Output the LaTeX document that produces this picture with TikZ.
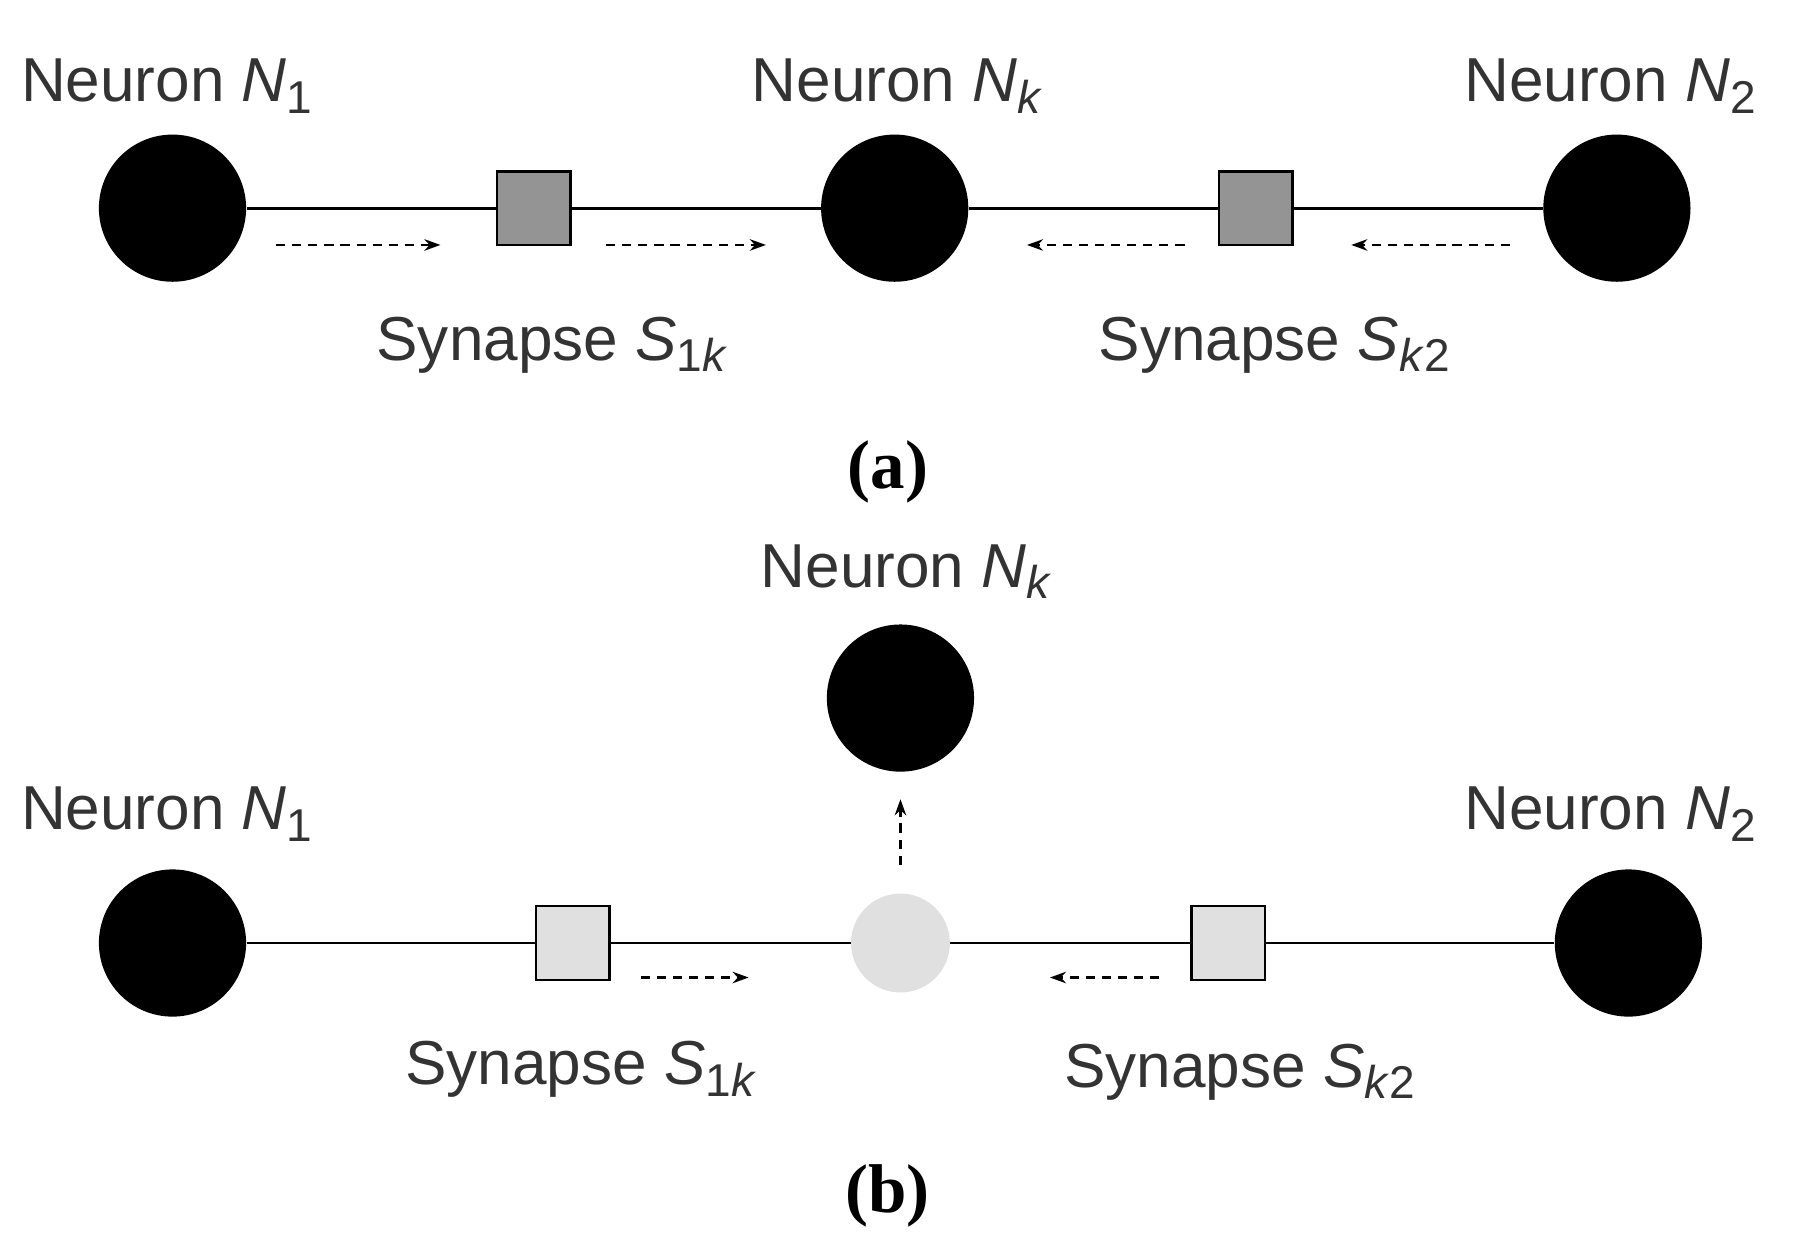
\documentclass[tikz,border=0pt]{standalone}
\usepackage{fontspec}
\setmainfont{Liberation Sans}
\newfontfamily\capfont{Liberation Serif}
\usetikzlibrary{arrows.meta}
\newcommand{\sbs}[1]{\raisebox{-0.35ex}{\fontsize{20}{22}\selectfont #1}}
\begin{document}
\begin{tikzpicture}[x=0.5pt,y=-0.5pt,
  neuron/.style={circle,fill=black,minimum size=64pt,inner sep=0},
  ghost/.style={circle,fill=black!12,minimum size=43pt,inner sep=0},
  syn/.style={draw,line width=1pt,minimum size=32pt,inner sep=0},
  dsyn/.style={syn,fill=black!42},
  lsyn/.style={syn,fill=black!12},
  lbl/.style={font=\fontsize{27}{30}\selectfont,text=black!80},
  figcap/.style={font=\capfont\bfseries\fontsize{30}{34}\selectfont},
  flow/.style={dash pattern=on 4pt off 3pt,line width=1pt,-{Stealth[length=7pt,width=5pt]}},
  wire/.style={line width=1.2pt}]
\useasboundingbox (0,0) rectangle (1560,1084);
% (a)
\node[neuron] (a1) at (150,181) {};
\node[neuron] (ak) at (778,181) {};
\node[neuron] (a2) at (1406,181) {};
\node[dsyn] (as1) at (464,181) {};
\node[dsyn] (as2) at (1092,181) {};
\draw[wire] (a1) -- (as1) -- (ak) -- (as2) -- (a2);
\coordinate (p1) at (240,213); \coordinate (p2) at (383,213);
\coordinate (p3) at (527,213); \coordinate (p4) at (666,213);
\coordinate (p5) at (1030,213); \coordinate (p6) at (893,213);
\coordinate (p7) at (1313,213); \coordinate (p8) at (1175,213);
\draw[flow] (p1) -- (p2); \draw[flow] (p3) -- (p4);
\draw[flow] (p5) -- (p6); \draw[flow] (p7) -- (p8);
\node[lbl] (la1) at (145,75) {Neuron \textit{N}\sbs{1}};
\node[lbl] (lak) at (780,75) {Neuron \textit{N}\sbs{\textit{k}}};
\node[lbl] (la2) at (1400,75) {Neuron \textit{N}\sbs{2}};
\node[lbl] (ls1) at (480,300) {Synapse \textit{S}\sbs{1\textit{k}}};
\node[lbl] (ls2) at (1108,300) {Synapse \textit{S}\sbs{\textit{k}2}};
\node[figcap] (ca) at (772,410) {(a)};
% (b)
\node[neuron] (bk) at (783,607) {};
\node[neuron] (b1) at (150,820) {};
\node[neuron] (b2) at (1416,820) {};
\node[ghost] (bg) at (783,820) {};
\node[lsyn] (bs1) at (498,820) {};
\node[lsyn] (bs2) at (1068,820) {};
\draw[wire] (b1) -- (bs1) -- (bg) -- (bs2) -- (b2);
\coordinate (q1) at (557,850); \coordinate (q2) at (651,850);
\coordinate (q3) at (1008,850); \coordinate (q4) at (913,850);
\coordinate (q5) at (783,752); \coordinate (q6) at (783,695);
\draw[flow] (q1) -- (q2); \draw[flow] (q3) -- (q4); \draw[flow] (q5) -- (q6);
\node[lbl] (lbk) at (788,497) {Neuron \textit{N}\sbs{\textit{k}}};
\node[lbl] (lb1) at (145,708) {Neuron \textit{N}\sbs{1}};
\node[lbl] (lb2) at (1400,708) {Neuron \textit{N}\sbs{2}};
\node[lbl] (lbs1) at (505,930) {Synapse \textit{S}\sbs{1\textit{k}}};
\node[lbl] (lbs2) at (1078,932) {Synapse \textit{S}\sbs{\textit{k}2}};
\node[figcap] (cb) at (772,1040) {(b)};
\end{tikzpicture}
\end{document}
